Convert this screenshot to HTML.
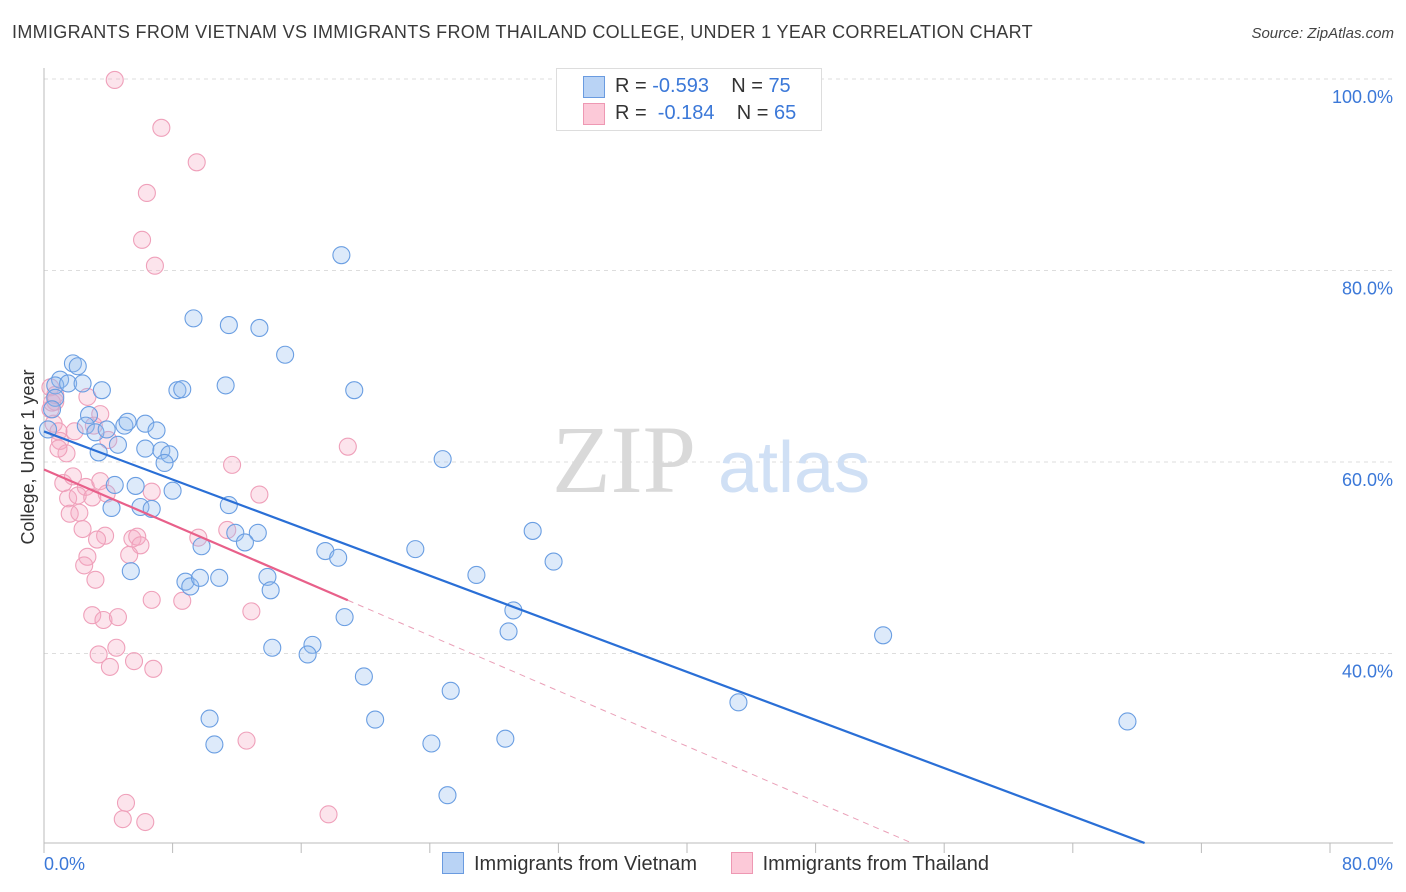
<!DOCTYPE html>
<html><head><meta charset="utf-8">
<style>
body{margin:0;background:#fff;font-family:"Liberation Sans",sans-serif;}
#wrap{position:relative;width:1406px;height:892px;overflow:hidden;}
.title{position:absolute;left:12px;top:22px;font-size:18px;color:#3a3a3a;letter-spacing:0.32px;}
.source{position:absolute;right:12px;top:25px;font-size:15px;color:#444;font-style:italic;}
</style></head><body>
<div id="wrap">
<div class="title">IMMIGRANTS FROM VIETNAM VS IMMIGRANTS FROM THAILAND COLLEGE, UNDER 1 YEAR CORRELATION CHART</div>
<div class="source">Source: ZipAtlas.com</div>
<svg id="chart" width="1406" height="892" style="position:absolute;left:0;top:0"></svg>
</div>
<script>
const vietnamX=[18.5,9.3,11.5,13.4,15.0,1.8,2.1,1.0,0.7,1.5,2.4,3.6,8.3,8.6,11.3,19.3,2.8,2.6,3.2,3.9,5.0,5.2,6.3,7.0,6.3,4.6,3.4,7.3,7.8,7.5,24.8,4.4,5.7,8.0,6.0,6.7,4.2,11.5,11.9,13.3,12.5,9.8,30.4,23.1,17.5,18.3,31.7,5.4,8.8,9.1,9.7,10.9,13.9,14.1,26.9,29.2,18.7,28.9,52.2,14.2,16.7,16.4,19.9,25.3,43.2,10.3,20.6,67.4,10.6,24.1,28.7,25.1,0.25,0.7,0.5];
const vietnamY=[81.6,75.0,74.3,74.0,71.2,70.3,70.0,68.6,68.0,68.2,68.2,67.5,67.5,67.6,68.0,67.5,64.9,63.8,63.1,63.4,63.8,64.2,64.0,63.3,61.4,61.8,61.0,61.2,60.8,59.9,60.3,57.6,57.5,57.0,55.3,55.1,55.2,55.5,52.6,52.6,51.6,51.2,52.8,50.9,50.7,50.0,49.6,48.6,47.5,47.0,47.9,47.9,48.0,46.6,48.2,44.5,43.8,42.3,41.9,40.6,40.9,39.9,37.6,36.1,34.9,33.2,33.1,32.9,30.5,30.6,31.1,25.2,63.4,66.7,65.5];
const thailandX=[4.4,7.3,9.5,6.4,6.1,6.9,0.4,2.7,0.7,3.5,0.6,0.9,1.0,1.9,4.0,1.4,18.9,11.7,1.2,1.8,2.6,3.5,1.5,2.1,3.0,3.9,6.7,13.4,1.6,2.2,2.4,3.8,3.3,5.5,5.8,6.0,9.6,11.4,2.7,2.5,5.3,3.2,6.7,8.6,3.0,3.7,4.6,12.9,4.5,3.4,4.1,5.6,6.8,12.6,5.1,4.9,6.3,17.7,0.4,0.5,0.7,3.1,0.9];
const thailandY=[99.9,94.9,91.3,88.1,83.2,80.5,67.8,66.8,66.3,65.0,64.0,63.2,62.2,63.2,62.3,60.9,61.6,59.7,57.8,58.5,57.4,58.0,56.2,56.5,56.3,56.7,56.9,56.6,54.6,54.7,53.0,52.3,51.9,52.0,52.2,51.3,52.1,52.9,50.1,49.2,50.3,47.7,45.6,45.5,44.0,43.5,43.8,44.4,40.6,39.9,38.6,39.2,38.4,30.9,24.4,22.7,22.4,23.2,65.5,66.2,67.0,63.8,61.4];
const yTicks=[40,60,80,100];
const yTickLabels=["40.0%","60.0%","80.0%","100.0%"];

const svg=document.getElementById('chart');
const NS='http://www.w3.org/2000/svg';
const X0=44,X1=1330,Y100=79,PXPER=9.575;
const xs=v=>X0+(v/80)*(X1-X0);
const ys=v=>Y100+(100-v)*PXPER;
const yBottom=843;
function mk(tag,attrs,parent){const e=document.createElementNS(NS,tag);for(const k in attrs)e.setAttribute(k,attrs[k]);(parent||svg).appendChild(e);return e;}

yTicks.forEach((t,i)=>{
  const g=mk('line',{x1:X0,x2:1393,y1:ys(t),y2:ys(t),stroke:'#ddd','stroke-dasharray':'4,4','stroke-width':1});
  
  
  const tx=mk('text',{x:1393,y:ys(t)+24,'text-anchor':'end','font-size':18,fill:'#3b78d8','font-family':'Liberation Sans, sans-serif'});
  tx.textContent=yTickLabels[i];
  
  
});
const ax=mk('line',{x1:X0,x2:X0,y1:68,y2:yBottom,stroke:'#bbb','stroke-width':1});


const bx=mk('line',{x1:X0,x2:1393,y1:yBottom,y2:yBottom,stroke:'#bbb','stroke-width':1});


for(let i=0;i<=10;i++){
  const t=mk('line',{x1:xs(i*8),x2:xs(i*8),y1:yBottom,y2:yBottom+10,stroke:'#bbb'});
  
  
}
const xl0=mk('text',{x:44,y:870,'font-size':18,fill:'#3b78d8'});xl0.textContent='0.0%';


const xl1=mk('text',{x:1393,y:870,'font-size':18,fill:'#3b78d8','text-anchor':'end'});xl1.textContent='80.0%';


const yt=mk('text',{x:0,y:0,'font-size':18,fill:'#333',transform:'translate(34,457) rotate(-90)','text-anchor':'middle'});
yt.textContent='College, Under 1 year';



const wm=mk('text',{x:552,y:492,'font-size':96,fill:'#d9d9d9','font-family':'Liberation Serif, serif'});wm.textContent='ZIP';


const wm2=mk('text',{x:718,y:492,'font-size':72,fill:'#d0e0f5'});wm2.textContent='atlas';



function drawPts(X,Y,fill,stroke,name){
  X.forEach((x,i)=>{
    const c=mk('circle',{cx:xs(x),cy:ys(Y[i]),r:8.5,fill:fill,stroke:stroke,'stroke-width':1.1});
    
    
  });
}
drawPts(thailandX,thailandY,'rgba(246,170,195,0.32)','#efa0ba','thailand-point');
drawPts(vietnamX,vietnamY,'rgba(150,190,240,0.32)','#6a9ee2','vietnam-point');

function reg(X,Y){const n=X.length;let mx=0,my=0;for(let i=0;i<n;i++){mx+=X[i];my+=Y[i];}mx/=n;my/=n;let sxy=0,sxx=0;for(let i=0;i<n;i++){sxy+=(X[i]-mx)*(Y[i]-my);sxx+=(X[i]-mx)**2;}const b=sxy/sxx;return[my-b*mx,b];}
const yMinVal=100-(yBottom-Y100)/PXPER;
function xAt(a,b,yv){return (yv-a)/b;}
const [va,vb]=reg(vietnamX,vietnamY);
const vEnd=Math.min(80,xAt(va,vb,yMinVal));
const vl=mk('line',{x1:xs(0),y1:ys(va),x2:xs(vEnd),y2:ys(va+vb*vEnd),stroke:'#2a6fd6','stroke-width':2.2});


const [ta,tb]=reg(thailandX,thailandY);
const tMax=Math.max(...thailandX);
const tEnd=Math.min(80,xAt(ta,tb,yMinVal));
const tl=mk('line',{x1:xs(0),y1:ys(ta),x2:xs(tMax),y2:ys(ta+tb*tMax),stroke:'#e8608a','stroke-width':2.2});


const td=mk('line',{x1:xs(tMax),y1:ys(ta+tb*tMax),x2:xs(tEnd),y2:ys(ta+tb*tEnd),stroke:'#eaa0b8','stroke-width':1,'stroke-dasharray':'6,5'});


</script>
<div style="position:absolute;left:556px;top:68px;width:264px;height:61px;border:1px solid #ddd;background:#fff;font-size:20px;">
  <div style="position:absolute;left:26px;top:7px;width:20px;height:20px;background:#b9d3f5;border:1px solid #6a9be0"></div>
  <div style="position:absolute;left:58px;top:6px;color:#333">R = <span style="color:#3b78d8">-0.593</span>&nbsp;&nbsp;&nbsp; N = <span style="color:#3b78d8">75</span></div>
  <div style="position:absolute;left:26px;top:34px;width:20px;height:20px;background:#fcc9d8;border:1px solid #ee98b3"></div>
  <div style="position:absolute;left:58px;top:33px;color:#333">R = &nbsp;<span style="color:#3b78d8">-0.184</span>&nbsp;&nbsp;&nbsp; N = <span style="color:#3b78d8">65</span></div>
</div>
<div style="position:absolute;left:442px;top:852px;font-size:20px;color:#333;white-space:nowrap;">
  <span><span style="display:inline-block;width:20px;height:20px;background:#b9d3f5;border:1px solid #6a9be0;vertical-align:-4px;margin-right:10px"></span>Immigrants from Vietnam</span>
  <span style="margin-left:28px"><span style="display:inline-block;width:20px;height:20px;background:#fcc9d8;border:1px solid #ee98b3;vertical-align:-4px;margin-right:10px"></span>Immigrants from Thailand</span>
</div>
</body></html>
